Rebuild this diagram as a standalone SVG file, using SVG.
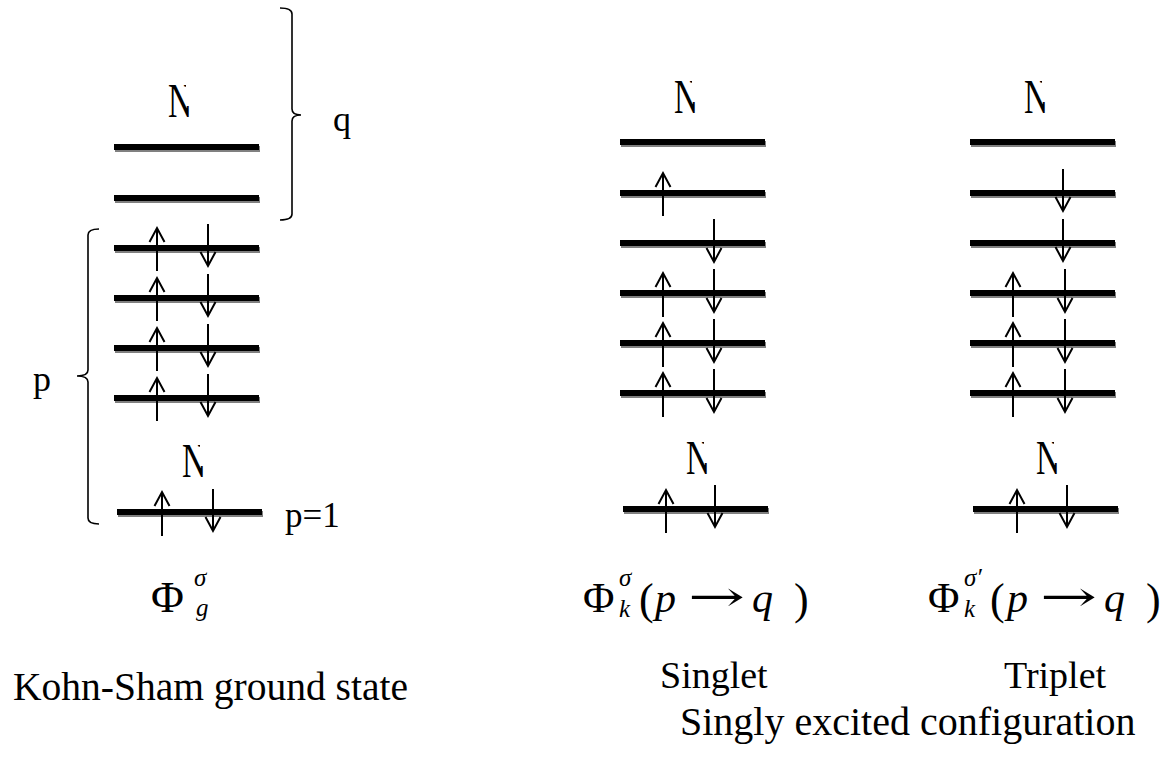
<svg xmlns="http://www.w3.org/2000/svg" width="1176" height="757" viewBox="0 0 1176 757">
<style>
.sh{fill:#808080}
.bk{fill:#000}
.t{fill:#000;font-family:"Liberation Serif","Times New Roman",serif}
.i{font-style:italic}
.arw{fill:#000;font-family:"DejaVu Serif",serif;font-size:42px}
.br{fill:none;stroke:#000;stroke-width:1.6}
.ar{fill:none;stroke:#000;stroke-width:2;marker-end:url(#ah)}
.dt{font-size:48px;fill:#000;font-family:"Liberation Serif","Times New Roman",serif}
</style>
<defs>
<marker id="ah" markerUnits="userSpaceOnUse" markerWidth="20" markerHeight="20" refX="14" refY="8" orient="auto" overflow="visible">
<path d="M0,0.5 L14,8 L0,15.5" fill="none" stroke="#000" stroke-width="2"/>
</marker>
<clipPath id="nc" clipPathUnits="userSpaceOnUse">
<polygon points="-5,-45 18,-45 18,-11 30,-11 30,10 -5,10"/>
</clipPath>
<symbol id="lv" overflow="visible">
<rect class="sh" x="1" y="-1" width="145" height="6"/>
<rect class="bk" x="0" y="-3" width="145" height="6"/>
</symbol>
</defs>
<g id="ground-state">
<use href="#lv" x="114" y="147"/>
<use href="#lv" x="114" y="198"/>
<use href="#lv" x="114" y="248"/>
<use href="#lv" x="114" y="298"/>
<use href="#lv" x="114" y="348"/>
<use href="#lv" x="114" y="398"/>
<use href="#lv" x="117" y="512"/>
<g transform="translate(168,117)" clip-path="url(#nc)"><text class="dt" transform="scale(0.7,1)">N</text></g>
<g transform="translate(182,477)" clip-path="url(#nc)"><text class="dt" transform="scale(0.7,1)">N</text></g>
<path class="br" d="M280,8 Q292,8 292,14 L292,109 Q292,115 301,115 Q292,115 292,121 L292,214 Q292,220 280,220"/>
<path class="br" d="M99,229 Q88,229 88,235 L88,370 Q88,376 77,376 Q88,376 88,382 L88,518 Q88,524 99,524"/>
<text class="t" x="333" y="131" font-size="36">q</text>
<text class="t" x="33" y="391" font-size="36">p</text>
<text class="t" x="285" y="527" font-size="35">p=1</text>
<text class="t" x="151" y="612" font-size="45">Φ</text>
<text class="t i" x="194" y="586" font-size="25">σ</text>
<text class="t i" x="196" y="616" font-size="25">g</text>
<text class="t" x="13" y="700" font-size="39.5">Kohn-Sham ground state</text>
</g>

<g id="singlet">
<use href="#lv" x="620" y="142"/>
<use href="#lv" x="620" y="193"/>
<use href="#lv" x="620" y="243"/>
<use href="#lv" x="620" y="293"/>
<use href="#lv" x="620" y="343"/>
<use href="#lv" x="620" y="393"/>
<use href="#lv" x="623" y="509"/>
<g transform="translate(674,113)" clip-path="url(#nc)"><text class="dt" transform="scale(0.7,1)">N</text></g>
<g transform="translate(686,474)" clip-path="url(#nc)"><text class="dt" transform="scale(0.7,1)">N</text></g>
<text class="t" x="583" y="612" font-size="43">Φ</text>
<text class="t i" x="619" y="586" font-size="25">σ</text>
<text class="t i" x="619" y="617" font-size="25">k</text>
<text class="t" x="639" y="614" font-size="44">(</text>
<text class="t i" x="655" y="612" font-size="42">p</text>
<text class="arw" x="688" y="611" textLength="57" lengthAdjust="spacingAndGlyphs">→</text>
<text class="t i" x="752" y="612" font-size="42">q</text>
<text class="t" x="794" y="614" font-size="44">)</text>
<text class="t" x="660" y="688" font-size="38">Singlet</text>
</g>

<g id="triplet">
<use href="#lv" x="970" y="142"/>
<use href="#lv" x="970" y="193"/>
<use href="#lv" x="970" y="243"/>
<use href="#lv" x="970" y="293"/>
<use href="#lv" x="970" y="343"/>
<use href="#lv" x="970" y="393"/>
<use href="#lv" x="973" y="509"/>
<g transform="translate(1024,113)" clip-path="url(#nc)"><text class="dt" transform="scale(0.7,1)">N</text></g>
<g transform="translate(1036,474)" clip-path="url(#nc)"><text class="dt" transform="scale(0.7,1)">N</text></g>
<text class="t" x="928" y="612" font-size="43">Φ</text>
<text class="t i" x="964" y="586" font-size="25">σ′</text>
<text class="t i" x="964" y="617" font-size="25">k</text>
<text class="t" x="990" y="614" font-size="44">(</text>
<text class="t i" x="1007" y="612" font-size="42">p</text>
<text class="arw" x="1040" y="611" textLength="57" lengthAdjust="spacingAndGlyphs">→</text>
<text class="t i" x="1104" y="612" font-size="42">q</text>
<text class="t" x="1146" y="614" font-size="44">)</text>
<text class="t" x="1004" y="688" font-size="38">Triplet</text>
</g>

<text id="caption" class="t" x="680" y="735" font-size="40">Singly excited configuration</text>

<g id="connectors">
<path class="ar" d="M157,271 V228"/>
<path class="ar" d="M157,321 V278"/>
<path class="ar" d="M157,371 V328"/>
<path class="ar" d="M157,421 V378"/>
<path class="ar" d="M162,536 V492"/>
<path class="ar" d="M208,224 V266"/>
<path class="ar" d="M208,274 V316"/>
<path class="ar" d="M208,324 V366"/>
<path class="ar" d="M208,374 V416"/>
<path class="ar" d="M213,489 V531"/>

<path class="ar" d="M663,216 V173"/>
<path class="ar" d="M663,317 V273"/>
<path class="ar" d="M663,367 V323"/>
<path class="ar" d="M663,417 V373"/>
<path class="ar" d="M666,533 V490"/>
<path class="ar" d="M714,219 V262"/>
<path class="ar" d="M714,269 V312"/>
<path class="ar" d="M714,319 V362"/>
<path class="ar" d="M714,369 V412"/>
<path class="ar" d="M715,485 V527"/>

<path class="ar" d="M1063,169 V211"/>
<path class="ar" d="M1063,219 V261"/>
<path class="ar" d="M1013,317 V273"/>
<path class="ar" d="M1013,367 V323"/>
<path class="ar" d="M1013,417 V373"/>
<path class="ar" d="M1017,533 V490"/>
<path class="ar" d="M1065,269 V312"/>
<path class="ar" d="M1065,319 V362"/>
<path class="ar" d="M1065,369 V412"/>
<path class="ar" d="M1067,485 V527"/>
</g>
</svg>
